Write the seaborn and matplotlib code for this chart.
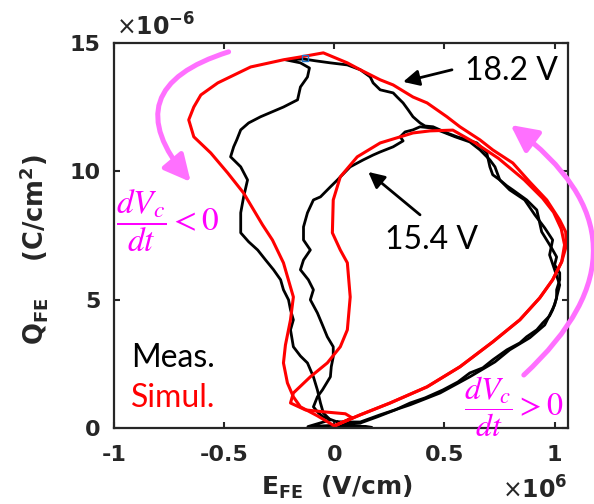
import matplotlib
matplotlib.use("Agg")
import matplotlib.pyplot as plt
import pandas as pd
import seaborn as sns

# E in units of 1e6 V/cm, Q in units of 1e-6 C/cm^2
meas_182_E = [0.014, 0.118, 0.195, 0.276, 0.344, 0.412, 0.493, 0.561, 0.615, 0.674, 0.719, 0.783, 0.842, 0.873,
              0.919, 0.946, 0.977, 0.991, 1.009, 1.009, 1.023, 1.023, 1.000, 1.009, 0.986, 0.964, 0.941, 0.932,
              0.919, 0.873, 0.810, 0.783, 0.751, 0.719, 0.706, 0.692, 0.647, 0.602, 0.557, 0.511, 0.448, 0.412,
              0.389, 0.357, 0.335, 0.312, 0.285, 0.267, 0.208, 0.176, 0.163, 0.118, 0.059, -0.018, -0.086, -0.140,
              -0.222, -0.154, -0.113, -0.122, -0.154, -0.167, -0.231, -0.335, -0.389, -0.425, -0.443, -0.457,
              -0.471, -0.425, -0.394, -0.412, -0.425, -0.425, -0.389, -0.348, -0.312, -0.276, -0.244, -0.231,
              -0.208, -0.199, -0.186, -0.199, -0.186, -0.154, -0.122, -0.095, -0.077, -0.063, -0.050, -0.018,
              -0.120, 0.000, 0.170, 0.060, 0.014]
meas_182_Q = [0.23, 0.19, 0.43, 0.70, 0.97, 1.17, 1.48, 1.79, 2.14, 2.34, 2.65, 3.04, 3.31, 3.55,
              3.82, 4.09, 4.36, 4.60, 5.06, 5.38, 5.77, 6.04, 6.35, 6.66, 7.01, 7.32, 7.64, 7.99,
              8.49, 8.88, 9.27, 9.43, 9.66, 9.86, 10.17, 10.71, 11.10, 11.22, 11.34, 11.49, 11.73, 11.76,
              11.88, 12.12, 12.39, 12.66, 12.89, 13.05, 13.17, 13.44, 13.67, 13.95, 14.14, 14.22, 14.30, 14.37,
              14.34, 14.22, 14.02, 13.67, 13.28, 12.78, 12.50, 12.12, 11.88, 11.61, 11.22, 10.95,
              10.56, 10.17, 9.66, 8.99, 8.38, 7.60, 7.25, 6.93, 6.54, 6.16, 5.77, 5.38,
              4.99, 4.60, 4.21, 3.82, 3.16, 2.80, 2.53, 1.99, 1.48, 0.97, 0.58, 0.31,
              0.05, 0.10, 0.02, 0.12, 0.23]

meas_154_E = [0.014, 0.118, 0.208, 0.344, 0.480, 0.615, 0.729, 0.796, 0.887, 0.955, 1.000, 1.023, 1.000, 0.977,
              0.991, 0.955, 0.910, 0.864, 0.796, 0.751, 0.729, 0.706, 0.661, 0.615, 0.548, 0.480, 0.434, 0.389,
              0.357, 0.321, 0.299, 0.312, 0.267, 0.208, 0.176, 0.131, 0.072, 0.014, -0.018, -0.063, -0.095,
              -0.122, -0.140, -0.140, -0.109, -0.140, -0.154, -0.118, -0.095, -0.109, -0.077, -0.054, -0.032,
              -0.005, -0.005, -0.014, -0.018, -0.054, -0.077, -0.095, -0.072, -0.050, 0.014]
meas_154_Q = [0.23, 0.23, 0.51, 0.90, 1.36, 1.99, 2.57, 3.04, 3.51, 4.01, 4.79, 5.57, 6.16, 6.74,
              7.32, 7.79, 8.30, 8.88, 9.27, 9.66, 10.17, 10.44, 10.83, 11.14, 11.34, 11.57, 11.69, 11.73,
              11.61, 11.53, 11.34, 11.18, 10.95, 10.75, 10.63, 10.44, 10.17, 9.66, 9.39, 9.00, 8.88,
              8.38, 7.83, 7.32, 6.93, 6.54, 6.16, 5.77, 5.38, 4.99, 4.48, 4.01, 3.55,
              3.16, 2.77, 2.38, 1.99, 1.48, 1.21, 0.82, 0.58, 0.43, 0.23]

sim_182_E = [0.000, 0.118, 0.253, 0.421, 0.570, 0.719, 0.842, 0.932, 0.991, 1.032, 1.054, 1.050, 1.023, 0.964,
             0.887, 0.810, 0.719, 0.661, 0.570, 0.511, 0.421, 0.357, 0.267, 0.208, 0.118, 0.059, -0.050,
             -0.154, -0.231, -0.380, -0.529, -0.606, -0.638, -0.661, -0.638, -0.561, -0.484, -0.412, -0.326,
             -0.281, -0.231, -0.186, -0.199, -0.222, -0.231, -0.213, -0.186, -0.154, -0.077, 0.000]
sim_182_Q = [0.08, 0.51, 0.97, 1.60, 2.38, 3.35, 4.21, 5.06, 5.77, 6.47, 7.13, 7.64, 8.10, 8.88,
             9.58, 10.32, 10.83, 11.22, 11.73, 12.12, 12.66, 12.89, 13.36, 13.56, 13.95, 14.22, 14.61,
             14.45, 14.34, 14.06, 13.44, 12.97, 12.50, 12.00, 11.34, 10.71, 9.93, 9.15, 7.91,
             7.32, 6.43, 5.10, 4.21, 3.23, 2.53, 1.75, 1.21, 0.82, 0.47, 0.08]

sim_154_E = [0.000, 0.118, 0.253, 0.421, 0.570, 0.719, 0.842, 0.932, 0.991, 1.032, 1.045, 1.030, 0.995, 0.945,
             0.862, 0.745, 0.640, 0.538, 0.434, 0.357, 0.208, 0.104, 0.027, -0.005, -0.009, 0.027, 0.059,
             0.072, 0.059, 0.027, -0.032, -0.109, -0.186, -0.199, -0.131, -0.041, 0.050, 0.081, 0.000]
sim_154_Q = [0.08, 0.51, 0.97, 1.60, 2.38, 3.35, 4.21, 5.06, 5.77, 6.47, 7.13, 7.75, 8.40, 8.95,
             9.66, 10.50, 11.10, 11.60, 11.57, 11.49, 11.10, 10.56, 9.78, 8.88, 7.60, 6.93, 6.43,
             5.10, 3.82, 3.16, 2.53, 1.99, 1.36, 0.97, 0.70, 0.62, 0.55, 0.39, 0.08]

x_ticks = [-1, -0.5, 0, 0.5, 1]
x_tick_labels = ["-1", "-0.5", "0", "0.5", "1"]
y_ticks = [0, 5, 10, 15]
y_tick_labels = ["0", "5", "10", "15"]
loop_labels = ["18.2 V", "15.4 V"]


def frame(E, Q, kind, loop):
    return pd.DataFrame({"E": E, "Q": Q, "kind": kind, "loop": loop, "i": range(len(E))})


meas = pd.concat([frame(meas_182_E, meas_182_Q, "Meas.", loop_labels[0]),
                  frame(meas_154_E, meas_154_Q, "Meas.", loop_labels[1])])
sim = pd.concat([frame(sim_182_E, sim_182_Q, "Simul.", loop_labels[0]),
                 frame(sim_154_E, sim_154_Q, "Simul.", loop_labels[1])])

sns.set_theme(style="ticks")
plt.rcParams["font.family"] = ["DejaVu Sans"]
plt.rcParams["mathtext.fontset"] = "dejavusans"

fig = plt.figure(figsize=(5.94, 5.04), dpi=100)
ax = fig.add_axes([0.192, 0.151, 0.764, 0.764])

sns.lineplot(data=meas, x="E", y="Q", units="loop", estimator=None, sort=False,
             color="black", linewidth=2.0, ax=ax, legend=False)
sns.lineplot(data=sim, x="E", y="Q", units="loop", estimator=None, sort=False,
             color="#ff0000", linewidth=2.2, ax=ax, legend=False)
ax.plot([-0.131], [14.41], marker="s", ms=5, mfc="none", mec="#1f77d0", mew=1.0)

ax.set_xlim(-1, 1.06)
ax.set_ylim(0, 15)
ax.set_xticks(x_ticks)
ax.set_xticklabels(x_tick_labels)
ax.set_yticks(y_ticks)
ax.set_yticklabels(y_tick_labels)
ax.tick_params(direction="in", top=True, right=True, length=4, width=1.5, color="#262626",
               labelsize=16, labelcolor="#262626")
ax.tick_params(axis="x", pad=12)
ax.tick_params(axis="y", pad=10)
for lab in ax.get_xticklabels() + ax.get_yticklabels():
    lab.set_fontweight("bold")
for sp in ax.spines.values():
    sp.set_visible(True)
    sp.set_linewidth(1.6)
    sp.set_color("#262626")

ax.set_xlabel(r"E$_\mathbf{FE}$  (V/cm)", fontsize=18, fontweight="bold", color="#262626")
ax.xaxis.set_label_coords(0.49, -0.12)
ax.xaxis.label.set_va("top")
ax.set_ylabel(r"Q$_\mathbf{FE}$    (C/cm$^\mathbf{2}$)", fontsize=18.5, fontweight="bold", color="#262626")
ax.yaxis.set_label_coords(-0.141, 0.462)

fig.text(0.262, 0.946, r"$\times\mathbf{10^{-6}}$", fontsize=17, color="#262626", ha="center", va="center")
fig.text(0.900, 0.028, r"$\times\mathbf{10^{6}}$", fontsize=17, color="#262626", ha="center", va="center")

txt_font = ["Lato", "DejaVu Sans"]
ax.text(0.805, 13.9, loop_labels[0], fontsize=23, family=txt_font, ha="center", va="center", color="black")
ax.text(0.443, 7.32, loop_labels[1], fontsize=23, family=txt_font, ha="center", va="center", color="black")
ax.text(-0.923, 2.73, "Meas.", fontsize=23, family=txt_font, ha="left", va="center", color="black")
ax.text(-0.923, 1.17, "Simul.", fontsize=23, family=txt_font, ha="left", va="center", color="#ff0000")

ax.annotate("", xy=(0.312, 13.48), xytext=(0.534, 13.95),
            arrowprops=dict(arrowstyle="-|>,head_length=0.6,head_width=0.3", color="black", lw=2,
                            mutation_scale=16, shrinkA=0, shrinkB=0))
ax.annotate("", xy=(0.154, 9.97), xytext=(0.389, 8.30),
            arrowprops=dict(arrowstyle="-|>,head_length=0.6,head_width=0.3", color="black", lw=2,
                            mutation_scale=16, shrinkA=0, shrinkB=0))

mag_arrow = "#ff70ff"
ax.annotate("", xy=(-0.652, 9.58), xytext=(-0.48, 14.65), annotation_clip=False,
            arrowprops=dict(arrowstyle="-|>,head_length=0.8,head_width=0.4", color=mag_arrow, lw=3.6,
                            mutation_scale=20, shrinkA=0, shrinkB=0, connectionstyle="arc3,rad=0.75"))
ax.annotate("", xy=(0.80, 11.8), xytext=(0.86, 2.06), annotation_clip=False,
            arrowprops=dict(arrowstyle="-|>,head_length=0.8,head_width=0.4", color=mag_arrow, lw=3.6,
                            mutation_scale=20, shrinkA=0, shrinkB=0, connectionstyle="arc3,rad=0.6"))

ax.text(-0.757, 8.06, r"$\dfrac{dV_c}{dt}<0$", fontsize=24, math_fontfamily="stix",
        color="#ff00ff", ha="center", va="center")
ax.text(0.815, 0.80, r"$\dfrac{dV_c}{dt}>0$", fontsize=23, math_fontfamily="stix",
        color="#ff00ff", ha="center", va="center", clip_on=False)

fig.savefig("out.png", dpi=100)
